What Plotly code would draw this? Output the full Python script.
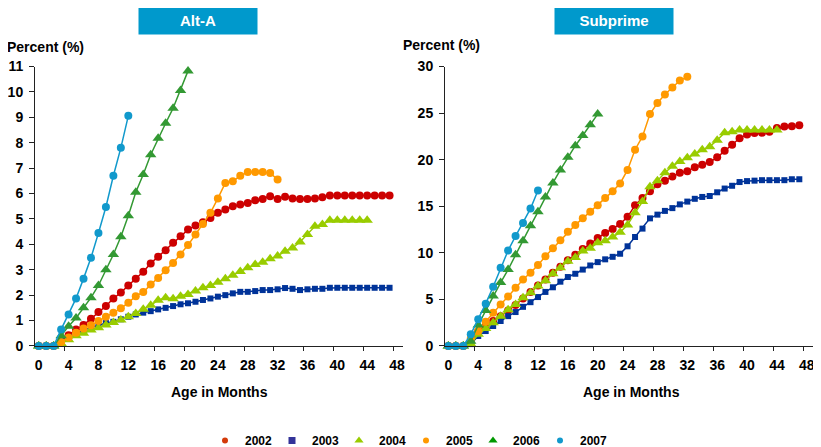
import plotly.graph_objects as go

MONTHS = [0, 1, 2, 3, 4, 5, 6, 7, 8, 9, 10, 11, 12, 13, 14, 15, 16, 17, 18, 19,
          20, 21, 22, 23, 24, 25, 26, 27, 28, 29, 30, 31, 32, 33, 34, 35, 36, 37,
          38, 39, 40, 41, 42, 43, 44, 45, 46, 47]
X_TICKS = [0, 4, 8, 12, 16, 20, 24, 28, 32, 36, 40, 44, 48]
X_MINOR = [3.5, 7.5, 11.5, 15.5, 19.5, 23.5, 27.5, 31.5, 35.5, 39.5, 43.5, 47.5]
ALT_Y_TICKS = [0, 1, 2, 3, 4, 5, 6, 7, 8, 9, 10, 11]
SUB_Y_TICKS = [0, 5, 10, 15, 20, 25, 30]
YEARS = ["2002", "2003", "2004", "2005", "2006", "2007"]

# Alt-A cumulative percent by age in months
alt_2002 = [0, 0, 0, 0.2, 0.42, 0.65, 0.82, 1.07, 1.34, 1.57, 1.87, 2.1, 2.38, 2.65, 2.92,
            3.25, 3.51, 3.77, 4.06, 4.32, 4.58, 4.74, 4.87, 5.04, 5.24, 5.37, 5.5, 5.57,
            5.63, 5.74, 5.79, 5.89, 5.79, 5.87, 5.81, 5.79, 5.79, 5.81, 5.85, 5.92, 5.92,
            5.92, 5.92, 5.92, 5.92, 5.92, 5.92, 5.92]
alt_2003 = [0, 0, 0, 0.2, 0.35, 0.5, 0.62, 0.72, 0.82, 0.9, 0.95, 1.05, 1.15, 1.24, 1.31,
            1.37, 1.44, 1.5, 1.57, 1.64, 1.68, 1.74, 1.81, 1.87, 1.94, 2.0, 2.07, 2.13,
            2.13, 2.16, 2.2, 2.2, 2.23, 2.28, 2.25, 2.2, 2.23, 2.25, 2.25, 2.29, 2.29,
            2.29, 2.29, 2.29, 2.29, 2.29, 2.29, 2.29]
alt_2004 = [0, 0, 0, 0.1, 0.24, 0.4, 0.5, 0.63, 0.72, 0.82, 0.92, 1.02, 1.15, 1.28, 1.44,
            1.6, 1.8, 1.9, 1.86, 1.96, 2.03, 2.16, 2.29, 2.38, 2.51, 2.65, 2.78, 2.93,
            3.08, 3.21, 3.3, 3.43, 3.54, 3.73, 3.86, 4.09, 4.39, 4.71, 4.78, 4.95, 4.95,
            4.95, 4.95, 4.95, 4.95]
alt_2005 = [0, 0, 0, 0.16, 0.33, 0.52, 0.69, 0.81, 0.98, 1.15, 1.31, 1.48, 1.7, 1.96, 2.12,
            2.42, 2.68, 2.98, 3.27, 3.6, 3.97, 4.39, 4.8, 5.24, 5.81, 6.42, 6.48, 6.7,
            6.85, 6.85, 6.85, 6.81, 6.55]
alt_2006 = [0, 0, 0, 0.4, 0.78, 1.1, 1.5, 1.9, 2.38, 3.0, 3.6, 4.3, 5.13, 6.05, 6.75,
            7.53, 8.18, 8.77, 9.36, 10.06, 10.83]
alt_2007 = [0, 0, 0, 0.65, 1.24, 1.87, 2.65, 3.47, 4.45, 5.47, 6.7, 7.8, 9.06]

# Subprime cumulative percent by age in months
sub_2002 = [0, 0, 0, 0.4, 1.6, 2.14, 2.68, 3.2, 3.8, 4.4, 5.1, 5.8, 6.5, 7.14, 7.86, 8.5,
            9.2, 9.8, 10.4, 11.0, 11.6, 12.14, 12.57, 13.1, 13.86, 15.1, 15.9, 16.6,
            17.35, 17.75, 18.2, 18.6, 18.75, 19.2, 19.46, 19.75, 20.25, 20.96, 21.6,
            22.3, 22.7, 22.86, 22.9, 23.0, 23.4, 23.57, 23.6, 23.7]
sub_2003 = [0, 0, 0, 0.2, 1.07, 1.6, 2.14, 2.68, 3.2, 3.64, 4.2, 4.7, 5.25, 5.8, 6.3, 6.9,
            7.4, 7.75, 8.2, 8.64, 9.0, 9.3, 9.57, 9.9, 10.7, 11.7, 12.6, 13.7, 14.1,
            14.5, 14.8, 15.2, 15.5, 15.8, 16.0, 16.1, 16.5, 16.9, 17.2, 17.6, 17.7,
            17.75, 17.8, 17.8, 17.8, 17.8, 17.9, 17.9]
sub_2004 = [0, 0, 0, 0.2, 1.25, 1.86, 2.5, 3.2, 3.9, 4.46, 5.18, 5.7, 6.43, 7.0, 7.75,
            8.4, 9.1, 9.5, 10.2, 10.5, 11.07, 11.3, 11.7, 12.2, 13.0, 14.3, 15.5, 17.1,
            17.75, 18.6, 19.3, 19.8, 20.2, 20.6, 21.07, 21.4, 22.1, 22.9, 23.0, 23.2,
            23.2, 23.2, 23.2, 23.2, 23.2]
sub_2005 = [0, 0, 0, 0.8, 1.6, 2.6, 3.57, 4.46, 5.3, 6.25, 7.14, 7.86, 8.68, 9.64, 10.5,
            11.36, 12.25, 13.0, 13.7, 14.4, 15.1, 15.9, 16.6, 17.45, 18.9, 21.07, 22.5,
            24.9, 26.1, 27.0, 27.75, 28.5, 28.9]
sub_2006 = [0, 0, 0, 0.5, 2.25, 3.8, 5.36, 6.8, 8.2, 9.8, 11.3, 12.9, 14.4, 16.0, 17.5,
            18.9, 20.25, 21.5, 22.6, 23.75, 24.9]
sub_2007 = [0, 0, 0, 1.25, 2.86, 4.54, 6.36, 8.39, 10.25, 11.8, 13.2, 14.75, 16.7]

ALT = [alt_2002, alt_2003, alt_2004, alt_2005, alt_2006, alt_2007]
SUB = [sub_2002, sub_2003, sub_2004, sub_2005, sub_2006, sub_2007]

COLORS = ["#CC0000", "#003399", "#99CC00", "#FF9900", "#339933", "#1199CC"]
LEGEND_COLORS = ["#D43A0A", "#333399", "#99CC00", "#FF9900", "#009900", "#1199CC"]
SYMBOLS = ["circle", "square", "triangle-up", "circle", "triangle-up", "circle"]
SIZES = [8, 6, 10, 8, 10, 8]
LEG_SIZES = [6, 7, 8, 6, 8, 6]

FONT = "Liberation Sans, Arial, sans-serif"
W, H = 821, 447
PAGE_OFFSET = 8  # the page body margin shifts the figure by this many pixels

fig = go.Figure()

for vals_list, xa, ya in [(ALT, "x", "y"), (SUB, "x2", "y2")]:
    for i, vals in enumerate(vals_list):
        fig.add_trace(go.Scatter(
            x=MONTHS[:len(vals)], y=vals, mode="lines+markers",
            xaxis=xa, yaxis=ya, showlegend=False, cliponaxis=False,
            line=dict(color=COLORS[i], width=1.5),
            marker=dict(color=COLORS[i], symbol=SYMBOLS[i], size=SIZES[i]),
            name=YEARS[i]))

for i, yr in enumerate(YEARS):
    fig.add_trace(go.Scatter(
        x=[None], y=[None], mode="markers", name=yr, showlegend=True,
        marker=dict(color=LEGEND_COLORS[i], symbol=SYMBOLS[i], size=LEG_SIZES[i])))


def px_x(p):
    return (p - PAGE_OFFSET) / W


def px_y(p):
    return 1 - (p - PAGE_OFFSET) / H


axis_common = dict(
    showgrid=False, zeroline=False, showline=True, linecolor="#222222", linewidth=1,
    automargin=False,
    tickfont=dict(family=FONT, size=14, color="#000000", weight="bold"),
)

xcommon = dict(axis_common, tickmode="array", tickvals=X_TICKS, ticks="",
               ticklabelstandoff=6,
               minor=dict(tickmode="array", tickvals=X_MINOR,
                          ticks="outside", ticklen=4, tickcolor="#222222"))

ycommon = dict(axis_common, tickmode="array", ticks="outside", ticklen=5,
               tickcolor="#222222", ticklabelstandoff=3,
               domain=[px_y(346.7), px_y(66.7)])

fig.update_layout(
    width=W, height=H, autosize=False,
    margin=dict(l=0, r=0, t=0, b=0, pad=0),
    paper_bgcolor="white", plot_bgcolor="white",
    font=dict(family=FONT, color="#000000"),
    xaxis=dict(xcommon, domain=[px_x(35), px_x(403)], range=[-0.5, 48.8], anchor="y"),
    yaxis=dict(ycommon, range=[0, 11], tickvals=ALT_Y_TICKS, anchor="x"),
    xaxis2=dict(xcommon, domain=[px_x(445), px_x(815)], range=[-0.45, 49.1], anchor="y2"),
    yaxis2=dict(ycommon, range=[0, 30], tickvals=SUB_Y_TICKS, anchor="x2"),
    legend=dict(orientation="h", x=px_x(205), xanchor="left", y=px_y(441), yanchor="middle",
                font=dict(family=FONT, size=12, color="#000000", weight="bold"),
                entrywidth=22, entrywidthmode="pixels", bgcolor="rgba(0,0,0,0)",
                itemclick=False),
)

for txt, x in [("<b>Alt-A</b>", 198), ("<b>Subprime</b>", 614)]:
    fig.add_annotation(xref="paper", yref="paper", xanchor="center", yanchor="middle",
                       showarrow=False, bgcolor="#0099CC", width=114, height=24,
                       borderpad=2, x=px_x(x), y=px_y(20), text=txt,
                       font=dict(family=FONT, size=15, color="white"))

for txt, x, y, anchor in [
    ("<b>Percent (%)</b>", 4.5, 47.5, "left"),
    ("<b>Percent (%)</b>", 400.5, 45.5, "left"),
    ("<b>Age in Months</b>", 220, 393, "center"),
    ("<b>Age in Months</b>", 631, 393, "center"),
]:
    fig.add_annotation(xref="paper", yref="paper", x=px_x(x), y=px_y(y), text=txt,
                       xanchor=anchor, yanchor="middle", showarrow=False,
                       font=dict(family=FONT, size=14, color="#000000"))

fig.write_html("out.html")
